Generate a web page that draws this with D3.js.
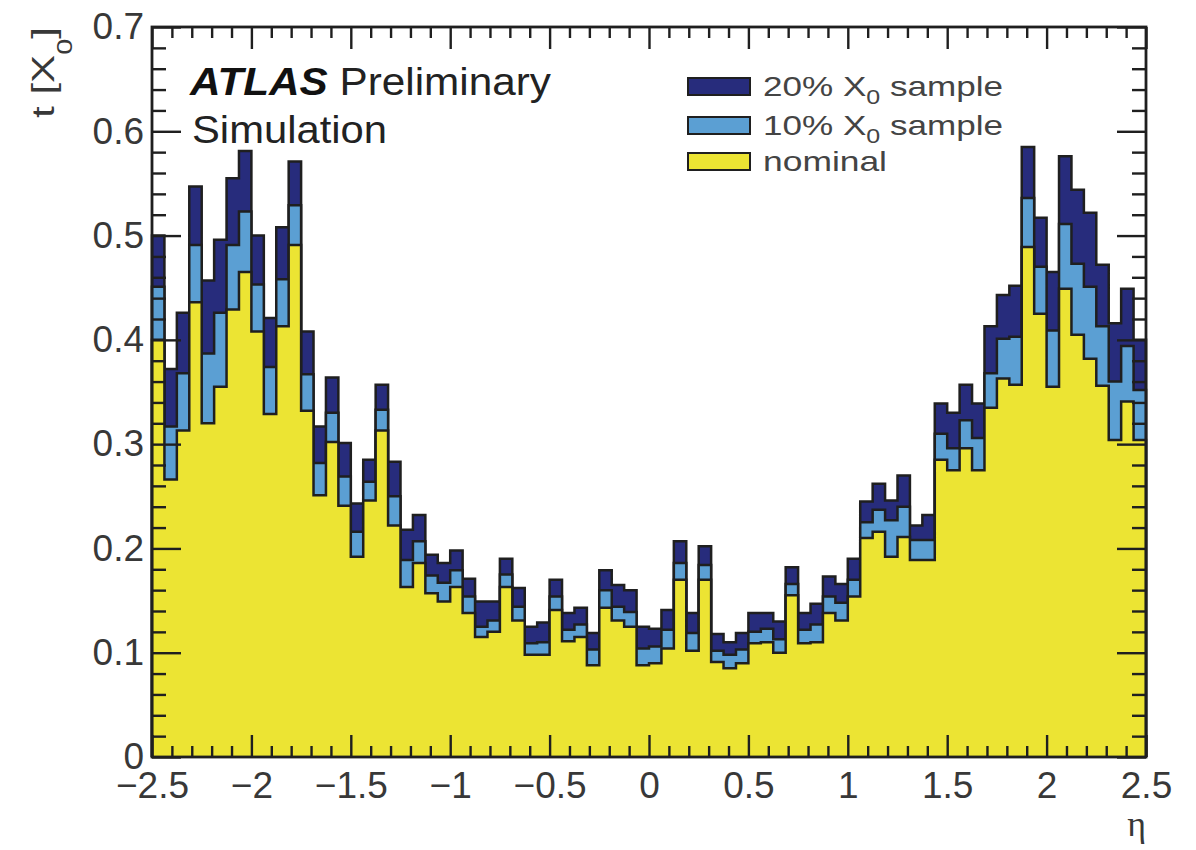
<!DOCTYPE html>
<html>
<head>
<meta charset="utf-8">
<script src="https://cdn.jsdelivr.net/npm/d3@7"></script>
<style>
  html, body { margin: 0; padding: 0; background: #fff; }
  svg { display: block; }
</style>
</head>
<body>
<svg id="chart" width="1196" height="850"></svg>
<script>
// ---------------- data ----------------
const etaMin = -2.5;
const etaMax = 2.5;
const binWidth = 0.0625;   // 80 bins in eta

// nominal geometry
const nominal = [
  0.400, 0.266, 0.313, 0.436, 0.320, 0.355, 0.429, 0.465, 0.408, 0.329,
  0.413, 0.491, 0.332, 0.251, 0.302, 0.241, 0.192, 0.246, 0.313, 0.222,
  0.163, 0.186, 0.157, 0.149, 0.163, 0.138, 0.115, 0.120, 0.163, 0.131,
  0.098, 0.098, 0.141, 0.111, 0.115, 0.088, 0.143, 0.131, 0.125, 0.088,
  0.090, 0.104, 0.170, 0.102, 0.170, 0.091, 0.085, 0.090, 0.109, 0.110,
  0.100, 0.155, 0.109, 0.110, 0.138, 0.131, 0.154, 0.210, 0.216, 0.192,
  0.211, 0.189, 0.189, 0.285, 0.275, 0.296, 0.275, 0.335, 0.363, 0.357,
  0.489, 0.425, 0.355, 0.449, 0.405, 0.382, 0.356, 0.304, 0.341, 0.304
];
// 10% X0 sample
const sample10 = [
  0.451, 0.317, 0.368, 0.491, 0.387, 0.426, 0.491, 0.523, 0.453, 0.374,
  0.458, 0.529, 0.367, 0.282, 0.330, 0.269, 0.216, 0.264, 0.333, 0.250,
  0.189, 0.207, 0.174, 0.167, 0.179, 0.154, 0.125, 0.131, 0.175, 0.144,
  0.109, 0.110, 0.154, 0.122, 0.127, 0.103, 0.160, 0.144, 0.139, 0.104,
  0.106, 0.122, 0.186, 0.119, 0.184, 0.102, 0.098, 0.103, 0.120, 0.123,
  0.113, 0.166, 0.122, 0.127, 0.154, 0.148, 0.170, 0.225, 0.237, 0.227,
  0.240, 0.208, 0.208, 0.310, 0.296, 0.323, 0.306, 0.368, 0.401, 0.403,
  0.536, 0.470, 0.409, 0.511, 0.473, 0.451, 0.413, 0.360, 0.394, 0.352
];
// 20% X0 sample
const sample20 = [
  0.500, 0.372, 0.426, 0.547, 0.457, 0.496, 0.555, 0.581, 0.500, 0.421,
  0.508, 0.571, 0.408, 0.317, 0.364, 0.301, 0.243, 0.285, 0.357, 0.283,
  0.218, 0.232, 0.194, 0.186, 0.198, 0.171, 0.149, 0.149, 0.190, 0.162,
  0.125, 0.129, 0.170, 0.138, 0.143, 0.119, 0.179, 0.165, 0.160, 0.125,
  0.123, 0.141, 0.207, 0.138, 0.202, 0.118, 0.110, 0.119, 0.138, 0.138,
  0.130, 0.182, 0.138, 0.147, 0.173, 0.166, 0.190, 0.245, 0.262, 0.246,
  0.270, 0.222, 0.232, 0.339, 0.330, 0.357, 0.339, 0.413, 0.443, 0.452,
  0.585, 0.517, 0.465, 0.576, 0.544, 0.522, 0.472, 0.416, 0.449, 0.400
];

const xMajorTicks = [-2.5, -2, -1.5, -1, -0.5, 0, 0.5, 1, 1.5, 2, 2.5];
const xTickLabels = ["-2.5", "-2", "-1.5", "-1", "-0.5", "0", "0.5", "1", "1.5", "2", "2.5"];
const yMajorTicks = [0, 0.1, 0.2, 0.3, 0.4, 0.5, 0.6, 0.7];
const yTickLabels = ["0", "0.1", "0.2", "0.3", "0.4", "0.5", "0.6", "0.7"];
const xMinorStep = 0.1;
const yMinorStep = 0.02;

const legendItems = [
  { label: "20% X", sub: "0", tail: " sample" },
  { label: "10% X", sub: "0", tail: " sample" },
  { label: "nominal", sub: "", tail: "" }
];

// ---------------- styles ----------------
const colors = { dark: "#272c7c", light: "#5b9fd3", yellow: "#ece433" };
const lineColor = "#1f1f1f";
const textColor = "#383838";
const fontSans = "'Liberation Sans', Arial, Helvetica, sans-serif";

// ---------------- layout ----------------
const svg = d3.select("#chart");
const pLeft = 152, pRight = 1146, pTop = 27, pBottom = 757;

const x = d3.scaleLinear().domain([etaMin, etaMax]).range([pLeft, pRight]);
const y = d3.scaleLinear().domain([0, 0.7]).range([pBottom, pTop]);

function stepData(vals) {
  const pts = vals.map((v, i) => ({ e: etaMin + i * binWidth, v }));
  pts.push({ e: etaMax, v: vals[vals.length - 1] });
  return pts;
}

const area = d3.area()
  .x(d => x(d.e)).y0(y(0)).y1(d => y(d.v))
  .curve(d3.curveStepAfter);

const line = d3.line()
  .x(d => x(d.e)).y(d => y(d.v))
  .curve(d3.curveStepAfter);

const histGroup = svg.append("g");
[[sample20, colors.dark], [sample10, colors.light], [nominal, colors.yellow]].forEach(([vals, col]) => {
  const pts = stepData(vals);
  histGroup.append("path").attr("d", area(pts)).attr("fill", col).attr("stroke", "none");
  const outline = [{ e: etaMin, v: 0 }].concat(pts).concat([{ e: etaMax, v: 0 }]);
  histGroup.append("path")
    .attr("d", line(outline))
    .attr("fill", "none").attr("stroke", lineColor).attr("stroke-width", 2.5)
    .attr("stroke-linejoin", "miter");
});

// ---------------- axes ----------------
const xMinor = d3.range(0, 51).map(i => etaMin + i * xMinorStep).filter(v => !xMajorTicks.some(m => Math.abs(m - v) < 1e-9));
const yMinor = d3.range(0, 36).map(i => i * yMinorStep).filter(v => !yMajorTicks.some(m => Math.abs(m - v) < 1e-9));

function styleAxis(g) {
  g.select(".domain").remove();
  g.selectAll(".tick line").attr("stroke", lineColor).attr("stroke-width", 2.4);
  g.selectAll(".tick text").attr("fill", textColor).style("font-family", fontSans).style("font-size", "37px");
}

// bottom
svg.append("g").attr("transform", `translate(0,${pBottom})`)
  .call(d3.axisBottom(x).tickValues(xMajorTicks).tickSize(-22).tickPadding(15)
    .tickFormat((d, i) => xTickLabels[i].replace("-", "\u2212")))
  .call(styleAxis);
svg.append("g").attr("transform", `translate(0,${pBottom})`)
  .call(d3.axisBottom(x).tickValues(xMinor).tickSize(-11).tickFormat(""))
  .call(styleAxis);
// top
svg.append("g").attr("transform", `translate(0,${pTop})`)
  .call(d3.axisTop(x).tickValues(xMajorTicks).tickSize(-22).tickFormat(""))
  .call(styleAxis);
svg.append("g").attr("transform", `translate(0,${pTop})`)
  .call(d3.axisTop(x).tickValues(xMinor).tickSize(-11).tickFormat(""))
  .call(styleAxis);
// left
svg.append("g").attr("transform", `translate(${pLeft},0)`)
  .call(d3.axisLeft(y).tickValues(yMajorTicks).tickSize(-29).tickPadding(8)
    .tickFormat((d, i) => yTickLabels[i]))
  .call(styleAxis);
svg.append("g").attr("transform", `translate(${pLeft},0)`)
  .call(d3.axisLeft(y).tickValues(yMinor).tickSize(-14).tickFormat(""))
  .call(styleAxis);
// right
svg.append("g").attr("transform", `translate(${pRight},0)`)
  .call(d3.axisRight(y).tickValues(yMajorTicks).tickSize(-29).tickFormat(""))
  .call(styleAxis);
svg.append("g").attr("transform", `translate(${pRight},0)`)
  .call(d3.axisRight(y).tickValues(yMinor).tickSize(-14).tickFormat(""))
  .call(styleAxis);

// frame
svg.append("rect")
  .attr("x", pLeft).attr("y", pTop).attr("width", pRight - pLeft).attr("height", pBottom - pTop)
  .attr("fill", "none").attr("stroke", lineColor).attr("stroke-width", 2.8);

// ---------------- axis titles ----------------
const yTitle = svg.append("text")
  .attr("transform", `translate(54,${pTop}) rotate(-90)`)
  .attr("text-anchor", "end")
  .attr("fill", textColor)
  .style("font-family", fontSans).style("font-size", "32px")
  .attr("textLength", 91).attr("lengthAdjust", "spacingAndGlyphs");
yTitle.append("tspan").text("t [X");
yTitle.append("tspan").text("0").style("font-size", "22px").attr("dy", "18");
yTitle.append("tspan").text("]").attr("dy", "-18");

svg.append("text")
  .attr("x", pRight).attr("y", 836)
  .attr("text-anchor", "end")
  .attr("fill", textColor)
  .style("font-family", "'Liberation Serif', 'DejaVu Serif', serif").style("font-size", "36px")
  .text("η");

// ---------------- labels ----------------
const atlas = svg.append("text")
  .attr("x", 190).attr("y", 95)
  .attr("fill", "#111")
  .style("font-family", fontSans).style("font-size", "38px")
  .attr("textLength", 361).attr("lengthAdjust", "spacingAndGlyphs");
atlas.append("tspan").text("ATLAS").style("font-weight", "bold").style("font-style", "italic");
atlas.append("tspan").text(" Preliminary").attr("fill", "#222");

svg.append("text")
  .attr("x", 192).attr("y", 143)
  .attr("fill", "#222")
  .style("font-family", fontSans).style("font-size", "38px")
  .attr("textLength", 195).attr("lengthAdjust", "spacingAndGlyphs")
  .text("Simulation");

// ---------------- legend ----------------
const legendColors = [colors.dark, colors.light, colors.yellow];
const legendBoxY = [78, 117, 153];
const legendWidths = [240, 240, 124];
legendItems.forEach((it, i) => {
  svg.append("rect")
    .attr("x", 688).attr("y", legendBoxY[i]).attr("width", 62).attr("height", 17)
    .attr("fill", legendColors[i]).attr("stroke", lineColor).attr("stroke-width", 2);
  const t = svg.append("text")
    .attr("x", 763).attr("y", legendBoxY[i] + 18)
    .attr("fill", "#444")
    .style("font-family", fontSans).style("font-size", "28px")
    .attr("textLength", legendWidths[i]).attr("lengthAdjust", "spacingAndGlyphs");
  t.append("tspan").text(it.label);
  if (it.sub) {
    t.append("tspan").text(it.sub).style("font-size", "20px").attr("dy", "8");
    t.append("tspan").text(it.tail).attr("dy", "-8");
  }
});
</script>
</body>
</html>
